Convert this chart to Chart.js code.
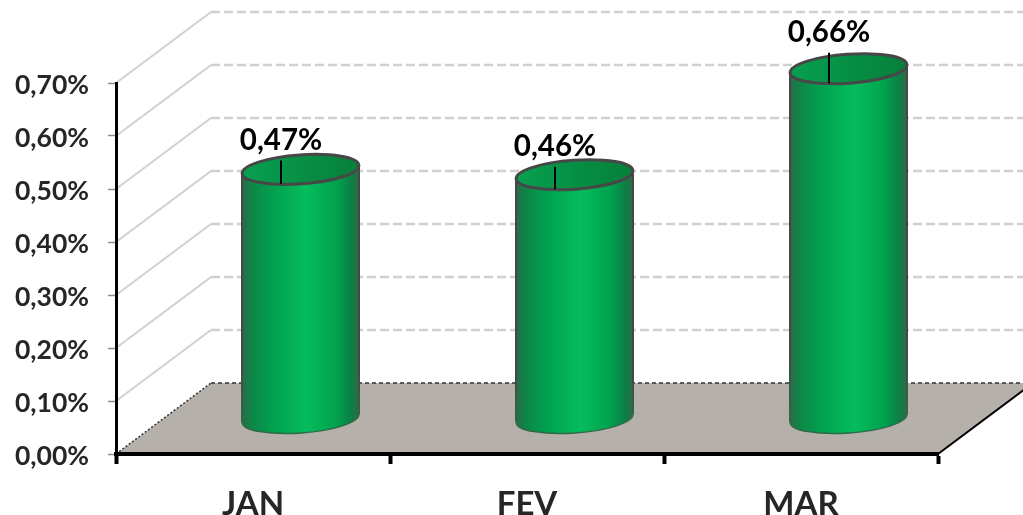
<!DOCTYPE html>
<html lang="pt">
<head>
<meta charset="utf-8">
<title>JAN FEV MAR</title>
<script src="https://cdn.jsdelivr.net/npm/chart.js@4"></script>
<style>
  html, body { margin: 0; padding: 0; background: #fff; overflow: hidden; }
  canvas { display: block; }
</style>
</head>
<body>
<canvas id="chart" width="1023" height="515"></canvas>
<script>
const meses = ['JAN', 'FEV', 'MAR'];
const valores = [0.47, 0.46, 0.66];
const rotulos = ['0,47%', '0,46%', '0,66%'];
const yMax = 0.7;
const yPasso = 0.1;

// perspectiva do "3D" do Excel
const depthX = 95;
const depthY = 71;
const raioY = 14.5;
const tilt = -4 * Math.PI / 180;
const hasteAcima = [9, 8, 16];

const fmtPct = v => v.toFixed(2).replace('.', ',') + '%';
const fonte = 'Lato, "Open Sans", sans-serif';

const fundo3d = {
  id: 'fundo3d',
  beforeDraw(chart) {
    const { ctx, chartArea: a, scales: { y } } = chart;
    ctx.save();
    // piso
    const base = y.getPixelForValue(0);
    ctx.fillStyle = '#b5b1aa';
    ctx.beginPath();
    ctx.moveTo(a.left, base);
    ctx.lineTo(a.left + depthX, base - depthY);
    ctx.lineTo(a.right + depthX, base - depthY);
    ctx.lineTo(a.right, base);
    ctx.closePath();
    ctx.fill();
    // linhas de grade, parede lateral e do fundo
    y.ticks.forEach(t => {
      if (t.value === 0) return;
      const p = y.getPixelForValue(t.value);
      ctx.strokeStyle = '#d0d0d0';
      ctx.lineWidth = 2;
      ctx.setLineDash([]);
      ctx.beginPath();
      ctx.moveTo(a.left, p);
      ctx.lineTo(a.left + depthX, p - depthY);
      ctx.stroke();
      ctx.lineWidth = 2.5;
      ctx.setLineDash([9, 4]);
      ctx.beginPath();
      ctx.moveTo(a.left + depthX, p - depthY);
      ctx.lineTo(a.right + depthX, p - depthY);
      ctx.stroke();
    });
    // bordas do piso
    ctx.strokeStyle = '#333';
    ctx.lineWidth = 1.5;
    ctx.setLineDash([2, 2]);
    ctx.beginPath();
    ctx.moveTo(a.left, base);
    ctx.lineTo(a.left + depthX, base - depthY);
    ctx.stroke();
    ctx.setLineDash([4, 3]);
    ctx.beginPath();
    ctx.moveTo(a.left + depthX, base - depthY);
    ctx.lineTo(a.right + depthX, base - depthY);
    ctx.stroke();
    ctx.setLineDash([]);
    ctx.strokeStyle = '#000';
    ctx.lineWidth = 2;
    ctx.beginPath();
    ctx.moveTo(a.right, base);
    ctx.lineTo(a.right + depthX, base - depthY);
    ctx.stroke();
    ctx.restore();
  }
};

const cilindros = {
  id: 'cilindros',
  afterDatasetsDraw(chart) {
    const { ctx, scales: { y } } = chart;
    const barras = chart.getDatasetMeta(0).data;
    ctx.save();
    barras.forEach((bar, i) => {
      const cx = bar.x + depthX / 2;
      const rx = bar.width / 2;
      const topo = bar.y - depthY / 2;
      const fundo = y.getPixelForValue(0) - depthY / 2;
      const esq = cx - rx, dir = cx + rx;

      const grad = ctx.createLinearGradient(esq, 0, dir, 0);
      grad.addColorStop(0, '#2b6b47');
      grad.addColorStop(0.1, '#0a8a48');
      grad.addColorStop(0.3, '#00a550');
      grad.addColorStop(0.55, '#06bc5c');
      grad.addColorStop(0.8, '#00a34e');
      grad.addColorStop(0.93, '#0a8044');
      grad.addColorStop(1, '#2f6a48');

      ctx.fillStyle = grad;
      ctx.beginPath();
      ctx.ellipse(cx, fundo, rx, raioY, tilt, 0, Math.PI);
      ctx.ellipse(cx, topo, rx, raioY, tilt, Math.PI, 0, true);
      ctx.closePath();
      ctx.fill();

      // contorno lateral, some aos poucos perto da base
      const dy = rx * Math.sin(-tilt);
      const contorno = ctx.createLinearGradient(0, topo, 0, fundo + dy);
      contorno.addColorStop(0, '#474747');
      contorno.addColorStop(0.8, '#474747');
      contorno.addColorStop(1, '#2f6a48');
      ctx.strokeStyle = contorno;
      ctx.lineWidth = 2;
      ctx.beginPath();
      ctx.moveTo(esq, topo + dy);
      ctx.lineTo(esq, fundo + dy);
      ctx.moveTo(dir, topo - dy);
      ctx.lineTo(dir, fundo - dy);
      ctx.stroke();

      // base
      ctx.strokeStyle = '#2f6a48';
      ctx.lineWidth = 1.5;
      ctx.beginPath();
      ctx.ellipse(cx, fundo, rx, raioY, tilt, 0, Math.PI);
      ctx.stroke();

      // tampa
      const gradTopo = ctx.createLinearGradient(esq, 0, dir, 0);
      gradTopo.addColorStop(0, '#07a04f');
      gradTopo.addColorStop(0.6, '#068c42');
      gradTopo.addColorStop(1, '#067f3a');
      ctx.fillStyle = gradTopo;
      ctx.strokeStyle = '#474747';
      ctx.lineWidth = 3;
      ctx.beginPath();
      ctx.ellipse(cx, topo, rx, raioY, tilt, 0, Math.PI * 2);
      ctx.fill();
      ctx.stroke();

      // haste e rótulo
      const hx = bar.x + 28;
      const hTopo = topo - hasteAcima[i];
      ctx.strokeStyle = '#000';
      ctx.lineWidth = 2;
      ctx.beginPath();
      ctx.moveTo(hx, hTopo);
      ctx.lineTo(hx, topo + raioY);
      ctx.stroke();

      ctx.fillStyle = '#000';
      ctx.font = 'bold 29.5px ' + fonte;
      ctx.textAlign = 'center';
      ctx.textBaseline = 'middle';
      ctx.fillText(rotulos[i], hx, hTopo - 20);
    });
    ctx.restore();
  }
};

new Chart(document.getElementById('chart'), {
  type: 'bar',
  data: {
    labels: meses,
    datasets: [{
      data: valores,
      backgroundColor: 'transparent',
      borderWidth: 0,
      barThickness: 117
    }]
  },
  plugins: [fundo3d, cilindros],
  options: {
    responsive: false,
    animation: false,
    layout: { padding: { top: 83, right: 85, left: 0, bottom: 0 } },
    plugins: { legend: { display: false }, tooltip: { enabled: false } },
    scales: {
      x: {
        afterFit: s => { s.height = 61; },
        border: { color: '#000', width: 4 },
        grid: { drawOnChartArea: false, color: '#000', tickColor: '#000', tickWidth: 4, tickLength: 10, offset: true },
        ticks: { color: '#262626', padding: 21, maxRotation: 0, font: { family: fonte, weight: 'bold', size: 33 } }
      },
      y: {
        min: 0,
        max: yMax,
        afterFit: s => { s.width = 116; },
        border: { color: '#000', width: 3 },
        grid: { drawOnChartArea: false, tickColor: '#8c8c8c', tickWidth: 1.5, tickLength: 8 },
        ticks: {
          stepSize: yPasso,
          color: '#262626',
          padding: 19,
          labelOffset: 2,
          callback: v => fmtPct(v),
          font: { family: fonte, weight: 'bold', size: 26.5 }
        }
      }
    }
  }
});
</script>
</body>
</html>
